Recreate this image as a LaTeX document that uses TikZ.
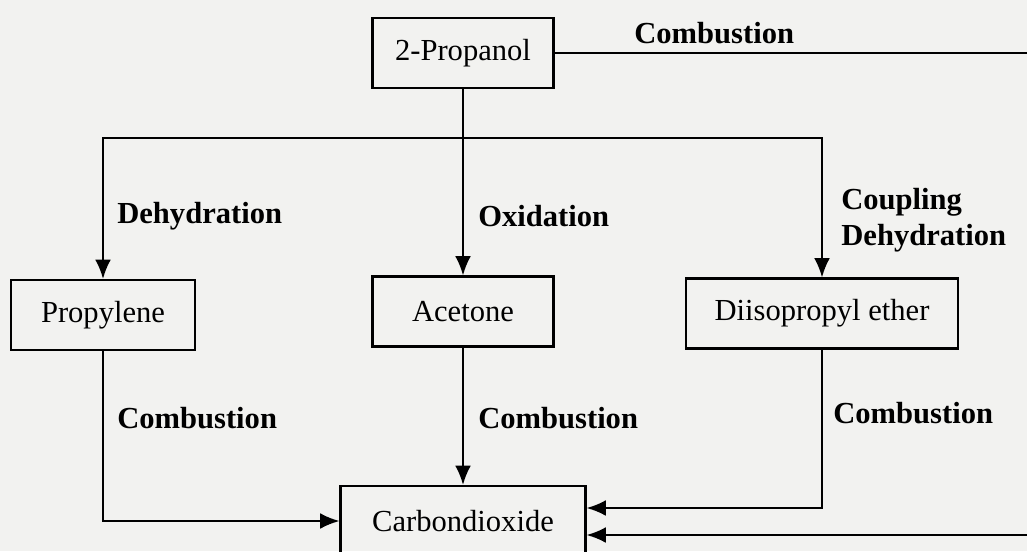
\documentclass[tikz,border=0pt]{standalone}
\usepackage{fontspec}
\setmainfont{Liberation Serif}
\usetikzlibrary{arrows.meta,calc}
\definecolor{paper}{rgb}{0.95,0.95,0.94}

\begin{document}
\begin{tikzpicture}[x=0.02cm,y=-0.02cm,
    box/.style={draw,line width=1.2pt,inner sep=0pt,minimum height=1.4cm,
      font=\fontsize{17.4}{20.5}\selectfont},
    lbl/.style={anchor=west,inner sep=0pt,align=left,
      font=\fontsize{17.4}{20.5}\selectfont\bfseries},
    arr/.style={line width=1.2pt,-{Latex[length=11pt,width=9pt]}}]
    % Frame
    \fill[paper] (0,0) rectangle (1027,551);
    \useasboundingbox (0,0) rectangle (1027,551);
    \clip (0,0) rectangle (1027,551);
    % Compounds
    \node[box,minimum width=3.62cm] (prop) at (463,53) {2-Propanol};
    \node[box,minimum width=3.68cm] (propyl) at (103,315) {Propylene};
    \node[box,minimum width=3.62cm] (acet) at (463,311.5) {Acetone};
    \node[box,minimum width=5.44cm] (ether) at (822,313.5) {Diisopropyl ether};
    \node[box,minimum width=4.9cm] (co2) at (463,521) {Carbondioxide};
    % Branch point and outer loop
    \coordinate (split) at (463,138);
    \coordinate (outA) at (1040,53);
    \coordinate (outB) at (1040,535);
    % Reactions from 2-Propanol
    \draw[arr] (prop) -- (acet);
    \draw[arr] (split) -| (propyl.north);
    \draw[arr] (split) -| (ether.north);
    \draw[arr] (prop.east) -- (outA) -- (outB) -- (co2.east |- outB);
    % Combustion to CO2
    \draw[arr] (acet) -- (co2);
    \draw[arr] (propyl.south) |- (co2.west);
    \draw[arr] (ether.south) |- ($(co2.east)+(0,-13)$);
    % Labels
    \node[lbl] (lcomb0) at (634,33) {Combustion};
    \node[lbl] (ldehyd) at (117,216) {Dehydration};
    \node[lbl] (loxid) at (478,216) {Oxidation};
    \node[lbl] (lcoupl) at (841,220) {Coupling\\Dehydration};
    \node[lbl] (lcomb1) at (117,418) {Combustion};
    \node[lbl] (lcomb2) at (478,418) {Combustion};
    \node[lbl] (lcomb3) at (833,413) {Combustion};
\end{tikzpicture}
\end{document}
